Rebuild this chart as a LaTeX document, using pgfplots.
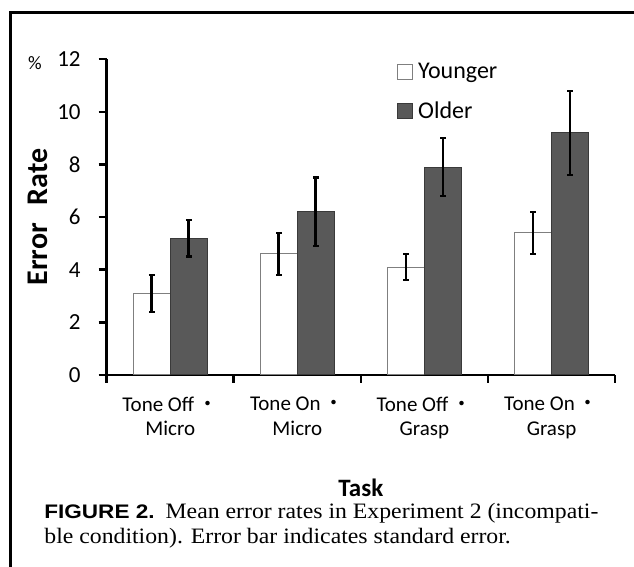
\documentclass[border=0pt]{standalone}
\usepackage{fontspec}
\usepackage{pgfplots}
\pgfplotsset{compat=1.18}
\setmainfont{Carlito}
\newfontfamily\tnr[FakeStretch=1.08]{Liberation Serif}
\newfontfamily\arial[FakeStretch=1.15]{Liberation Sans}
\newfontfamily\cjk{Noto Sans CJK JP}
\definecolor{olderfill}{HTML}{595959}
\definecolor{olderedge}{HTML}{3A3A3A}
\definecolor{youngedge}{HTML}{7F7F7F}
\newcommand{\kdot}{\hspace{1.5pt}{\cjk ・}}

\pgfplotstableread{
x y e
0 3.1 0.7
1 4.6 0.8
2 4.1 0.5
3 5.4 0.8
}\younger
\pgfplotstableread{
x y e
0 5.2 0.7
1 6.2 1.3
2 7.9 1.1
3 9.2 1.6
}\older

\begin{document}
\begin{tikzpicture}
\useasboundingbox (0pt,0pt) rectangle (317pt,283.5pt);
\draw[line width=1.5pt] (5.5pt,-3pt) -- (5.5pt,277pt) -- (320pt,277pt);
\begin{axis}[
  at={(53.35pt,96pt)}, anchor=south west,
  scale only axis, width=254.2pt, height=157.9pt,
  clip=false,
  axis lines=left,
  axis line style={line width=1.4pt, -},
  xmin=-0.5, xmax=3.5, ymin=0, ymax=12,
  ytick={0,2,...,12},
  xtick={-0.5,0.5,1.5,2.5,3.5},
  x tick label as interval,
  xticklabels={{Tone Off\kdot\\Micro},{Tone On\kdot\\Micro},{Tone Off\kdot\\Grasp},{Tone On\kdot\\Grasp}},
  tick align=outside,
  major tick length=4pt,
  tick style={line width=1.3pt, black},
  /pgf/number format/assume math mode=true,
  yticklabel style={font=\fontsize{11.5}{12}\selectfont, xshift=-5.5pt},
  xticklabel style={font=\fontsize{10.5}{12.2}\selectfont, align=center, yshift=-3.5pt},
  ybar=0pt, bar width=18.5pt,
  ylabel={\textbf{Error}\hspace{9pt}\textbf{Rate}},
  every axis y label/.style={at={(axis description cs:-0.135,0.5)}, rotate=90, anchor=center,
    font=\fontsize{15}{16}\selectfont},
  xlabel={\textbf{Task}},
  every axis x label/.style={at={(axis description cs:0.5,-0.358)}, anchor=center,
    font=\fontsize{12.5}{14}\selectfont},
  legend style={at={(0.5705,0.998)}, anchor=north west, draw=none, fill=none,
    font=\fontsize{12}{14}\selectfont, row sep=7pt, inner sep=0pt,
    nodes={inner sep=1.5pt}},
  legend cell align=left,
  sqlegend/.style={legend image code/.code={\draw[##1, line width=0.5pt] (0pt,-3.75pt) rectangle (7.5pt,3.75pt);}},
  error bars/error bar style={line width=1.4pt, black},
  error bars/error mark options={rotate=90, mark size=1.4pt, line width=1.2pt, black},
]
\addplot[fill=white, draw=youngedge, line width=0.5pt, sqlegend,
  error bars/.cd, y dir=both, y explicit]
  table[x=x, y=y, y error=e] {\younger};
\addlegendentry{\hspace{1pt}Younger}
\addplot[fill=olderfill, draw=olderedge, line width=0.5pt, sqlegend,
  error bars/.cd, y dir=both, y explicit]
  table[x=x, y=y, y error=e] {\older};
\addlegendentry{\hspace{1pt}Older}
\node[font=\fontsize{9.5}{10}\selectfont] at (axis description cs:-0.141,0.988) {\%};
\end{axis}
\node[anchor=base west, inner sep=0pt, font=\tnr\fontsize{11}{12}\selectfont]
  at (22pt,24.2pt) {{\arial\bfseries\fontsize{9.8}{12}\selectfont FIGURE 2.}\enspace Mean error rates in Experiment 2 (incompati-};
\node[anchor=base west, inner sep=0pt, font=\tnr\fontsize{11}{12}\selectfont]
  at (22pt,11.7pt) {ble condition). Error bar indicates standard error.};
\end{tikzpicture}
\end{document}
